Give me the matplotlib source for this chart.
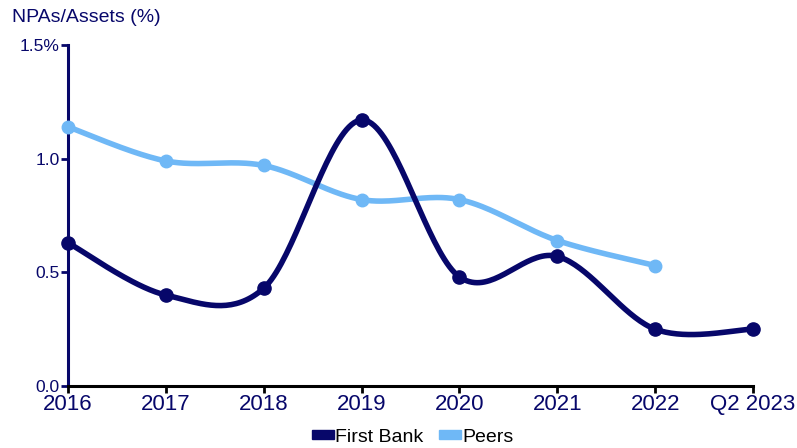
import numpy as np
import matplotlib
matplotlib.use("Agg")
import matplotlib.pyplot as plt
from matplotlib.patches import Patch

categories = ["2016", "2017", "2018", "2019", "2020", "2021", "2022", "Q2 2023"]
first_bank = [0.63, 0.40, 0.43, 1.17, 0.48, 0.57, 0.25, 0.25]
peers = [1.14, 0.99, 0.97, 0.82, 0.82, 0.64, 0.53]
y_ticks = [0.0, 0.5, 1.0, 1.5]
y_tick_labels = ["0.0", "0.5", "1.0", "1.5%"]

NAVY = "#07076a"
LIGHT = "#6fb8f6"
plt.rcParams['font.family'] = ['Liberation Sans', 'DejaVu Sans']

W, H = 797, 448
fig = plt.figure(figsize=(W / 100, H / 100), dpi=100)
ax = fig.add_axes([68 / W, 1 - 386 / H, (753 - 68) / W, (386 - 45) / H])
ax.set_xlim(0, len(categories) - 1)
ax.set_ylim(0, 1.5)

# pixel scaling for smoothing in screen space
sx = (753 - 68) / (len(categories) - 1)
sy = (386 - 45) / 1.5


def smooth(xs, ys, n=40):
    P = np.column_stack([np.asarray(xs, float) * sx, np.asarray(ys, float) * sy])
    out = [P[0]]
    m = len(P)
    for i in range(m - 1):
        p0 = P[i - 1] if i > 0 else P[i]
        p1 = P[i]
        p2 = P[i + 1]
        p3 = P[i + 2] if i + 2 < m else P[i + 1]
        c1 = p1 + (p2 - p0) / 6.0
        c2 = p2 - (p3 - p1) / 6.0
        t = np.linspace(0, 1, n)[1:, None]
        seg = ((1 - t) ** 3) * p1 + 3 * ((1 - t) ** 2) * t * c1 + 3 * (1 - t) * t ** 2 * c2 + t ** 3 * p2
        out.extend(seg)
    out = np.array(out)
    return out[:, 0] / sx, out[:, 1] / sy


for vals, col, ms in [(peers, LIGHT, 9), (first_bank, NAVY, 9.5)]:
    xs = np.arange(len(vals))
    cx, cy = smooth(xs, vals)
    ax.plot(cx, cy, color=col, lw=4.0, solid_capstyle="round", clip_on=False, zorder=3)
    ax.plot(xs, vals, "o", color=col, ms=ms, clip_on=False, zorder=4)

for s in ["top", "right"]:
    ax.spines[s].set_visible(False)
ax.spines["left"].set_color(NAVY)
ax.spines["left"].set_linewidth(2.2)
ax.spines["bottom"].set_color("black")
ax.spines["bottom"].set_linewidth(2.2)

ax.set_yticks(y_ticks)
ax.set_yticklabels(y_tick_labels, fontsize=12.5, color=NAVY)
ax.tick_params(axis="y", colors=NAVY, length=5, width=2, pad=1, labelcolor=NAVY)
ax.set_xticks(range(len(categories)))
ax.set_xticklabels(categories, fontsize=16, color=NAVY)
ax.tick_params(axis="x", colors="black", length=5, width=2, pad=1, labelcolor=NAVY)

fig.text(12 / W, 1 - 17 / H, "NPAs/Assets (%)", fontsize=14, color=NAVY, va="center", ha="left")

handles = [Patch(color=NAVY, label="First Bank"), Patch(color=LIGHT, label="Peers")]
fig.legend(handles=handles, loc="center", bbox_to_anchor=(413 / W, 1 - 437 / H), ncol=2,
           frameon=False, fontsize=14, handlelength=1.1, handleheight=0.3,
           handletextpad=0.1, columnspacing=0.8, borderpad=0)

fig.savefig("out.png", dpi=100)
